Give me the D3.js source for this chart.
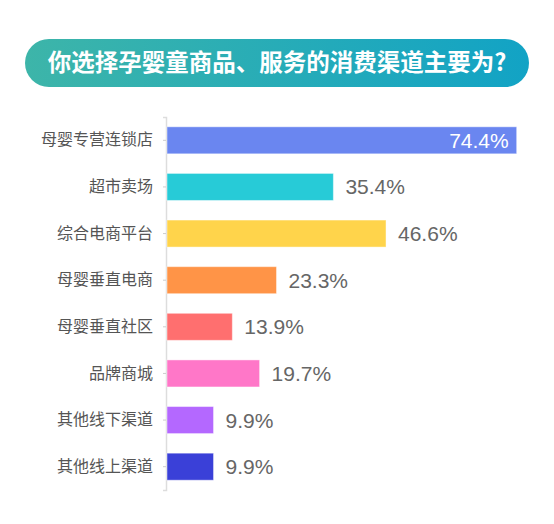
<!DOCTYPE html>
<html>
<head>
<meta charset="utf-8">
<script src="https://cdn.jsdelivr.net/npm/d3@7"></script>
<style>
  body { margin: 0; background: #fff; }
  text { font-family: "Noto Sans CJK SC", "Noto Sans", sans-serif; }
</style>
</head>
<body>
<div id="chart"></div>
<script>
// data
var titleText = "你选择孕婴童商品、服务的消费渠道主要为?";
var categories = ["母婴专营连锁店", "超市卖场", "综合电商平台", "母婴垂直电商", "母婴垂直社区", "品牌商城", "其他线下渠道", "其他线上渠道"];
var values = [74.4, 35.4, 46.6, 23.3, 13.9, 19.7, 9.9, 9.9];
var colors = ["#6a86f0", "#27cbd7", "#ffd44b", "#ff9447", "#ff6f6f", "#ff77c8", "#b468ff", "#3a40d8"];

var width = 554, height = 524;

var svg = d3.select("#chart")
    .append("svg")
    .attr("width", width)
    .attr("height", height);

// title pill with gradient
var grad = svg.append("defs").append("linearGradient")
    .attr("id", "titleGrad")
    .attr("x1", "0%").attr("x2", "100%");
grad.append("stop").attr("offset", "0%").attr("stop-color", "#3db5a9");
grad.append("stop").attr("offset", "100%").attr("stop-color", "#12a3c5");

svg.append("rect")
    .attr("x", 25).attr("y", 39)
    .attr("width", 504).attr("height", 48)
    .attr("rx", 24)
    .attr("fill", "url(#titleGrad)");

svg.append("text")
    .attr("x", 277).attr("y", 63)
    .attr("dy", "0.36em")
    .attr("text-anchor", "middle")
    .attr("fill", "#fff")
    .attr("font-size", 23.5)
    .attr("font-weight", "bold")
    .text(titleText);

// scales
var x = d3.scaleLinear()
    .domain([0, 80])
    .range([167, 543]);

var y = d3.scaleBand()
    .domain(categories)
    .range([117, 490])
    .paddingInner(0.42)
    .paddingOuter(0.21);

// y axis
var yAxis = svg.append("g")
    .attr("transform", "translate(166,0)")
    .call(d3.axisLeft(y).tickSize(3).tickPadding(10));
yAxis.select(".domain").attr("stroke", "#ddd").attr("stroke-width", 1.5);
yAxis.selectAll(".tick line").attr("stroke", "#ccc");
yAxis.selectAll(".tick text")
    .attr("fill", "#555")
    .attr("font-size", 16);

// bars
svg.selectAll(".bar")
    .data(values)
    .enter()
    .append("rect")
    .attr("class", "bar")
    .attr("x", x(0))
    .attr("y", function(d, i) { return y(categories[i]); })
    .attr("width", function(d) { return x(d) - x(0); })
    .attr("height", y.bandwidth())
    .attr("fill", function(d, i) { return colors[i]; })
    .attr("stroke", "rgba(255,255,255,0.45)")
    .attr("stroke-width", 1);

// value labels (the longest one sits inside its bar)
svg.selectAll(".val")
    .data(values)
    .enter()
    .append("text")
    .attr("class", "val")
    .attr("x", function(d, i) { return i === 0 ? x(d) - 8 : x(d) + 12; })
    .attr("y", function(d, i) { return y(categories[i]) + y.bandwidth() / 2; })
    .attr("dy", "0.36em")
    .attr("text-anchor", function(d, i) { return i === 0 ? "end" : "start"; })
    .attr("fill", function(d, i) { return i === 0 ? "#fff" : "#666"; })
    .attr("font-size", 21)
    .style("font-family", "'Liberation Sans', Arial, sans-serif")
    .text(function(d) { return d.toFixed(1) + "%"; });
</script>
</body>
</html>
